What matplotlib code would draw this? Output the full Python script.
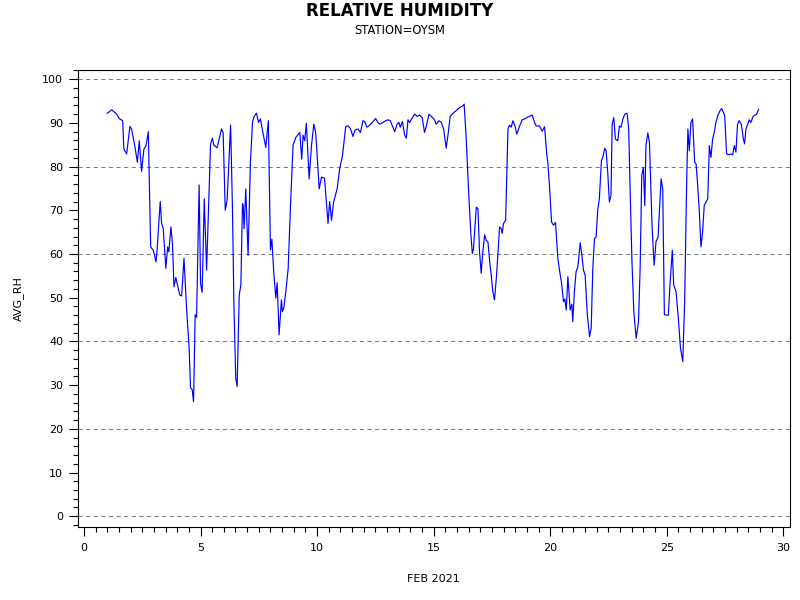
import matplotlib
matplotlib.use("Agg")
import matplotlib.pyplot as plt
from matplotlib.ticker import MultipleLocator

days = [
    1.00, 1.19, 1.40, 1.51, 1.66, 1.71, 1.83, 1.97, 2.04, 2.19, 2.29, 2.37, 2.47, 2.57, 2.66, 2.76,
    2.86, 2.97, 3.09, 3.14, 3.27, 3.33, 3.40, 3.51, 3.59, 3.64, 3.73, 3.80, 3.86, 3.94, 4.04, 4.11,
    4.19, 4.29, 4.40, 4.51, 4.57, 4.64, 4.70, 4.77, 4.83, 4.94, 5.00, 5.07, 5.16, 5.26, 5.36, 5.43,
    5.51, 5.57, 5.71, 5.90, 5.97, 6.06, 6.14, 6.29, 6.37, 6.43, 6.51, 6.57, 6.66, 6.73, 6.80, 6.83,
    6.87, 6.94, 7.04, 7.14, 7.23, 7.30, 7.40, 7.49, 7.57, 7.69, 7.80, 7.91, 8.00, 8.06, 8.14, 8.23,
    8.29, 8.37, 8.47, 8.51, 8.57, 8.66, 8.76, 8.86, 8.97, 9.09, 9.17, 9.26, 9.34, 9.40, 9.47, 9.54,
    9.66, 9.76, 9.86, 9.94, 10.00, 10.09, 10.19, 10.32, 10.47, 10.54, 10.62, 10.71, 10.86, 10.97,
    11.09, 11.23, 11.33, 11.43, 11.54, 11.63, 11.76, 11.86, 11.97, 12.04, 12.14, 12.26, 12.40,
    12.51, 12.61, 12.69, 12.83, 12.94, 13.04, 13.14, 13.23, 13.33, 13.43, 13.51, 13.57, 13.66,
    13.76, 13.83, 13.90, 13.97, 14.09, 14.19, 14.29, 14.40, 14.51, 14.61, 14.69, 14.80, 14.90,
    15.04, 15.11, 15.23, 15.33, 15.43, 15.54, 15.63, 15.71, 15.83, 15.97, 16.11, 16.26, 16.31,
    16.40, 16.51, 16.60, 16.66, 16.71, 16.83, 16.90, 16.97, 17.04, 17.11, 17.19, 17.26, 17.33,
    17.40, 17.47, 17.54, 17.61, 17.69, 17.76, 17.83, 17.90, 17.94, 18.00, 18.09, 18.19, 18.26,
    18.33, 18.40, 18.49, 18.57, 18.69, 18.80, 18.90, 19.00, 19.11, 19.23, 19.33, 19.40, 19.54,
    19.66, 19.76, 19.86, 19.90, 19.97, 20.06, 20.14, 20.23, 20.33, 20.40, 20.49, 20.57, 20.63,
    20.69, 20.76, 20.86, 20.93, 20.97, 21.04, 21.11, 21.19, 21.29, 21.36, 21.43, 21.50, 21.59,
    21.69, 21.76, 21.83, 21.90, 21.97, 22.04, 22.11, 22.20, 22.26, 22.34, 22.40, 22.47, 22.54,
    22.61, 22.66, 22.73, 22.80, 22.90, 22.97, 23.04, 23.11, 23.20, 23.30, 23.37, 23.43, 23.51,
    23.59, 23.69, 23.79, 23.86, 23.93, 24.00, 24.06, 24.11, 24.19, 24.26, 24.37, 24.46, 24.54,
    24.63, 24.76, 24.83, 24.90, 25.00, 25.07, 25.14, 25.24, 25.30, 25.40, 25.50, 25.59, 25.69,
    25.77, 25.86, 25.91, 25.97, 26.04, 26.11, 26.20, 26.26, 26.33, 26.40, 26.47, 26.54, 26.61,
    26.69, 26.76, 26.83, 26.90, 26.97, 27.04, 27.11, 27.20, 27.29, 27.36, 27.43, 27.49, 27.57,
    27.66, 27.76, 27.83, 27.90, 27.97, 28.04, 28.11, 28.20, 28.29, 28.34, 28.40, 28.49, 28.54,
    28.61, 28.71, 28.80, 28.86, 28.94,
]

avg_rh = [
    92.2, 93.0, 92.0, 91.0, 90.5, 84.0, 82.9, 89.2, 88.6, 84.4, 81.0, 85.9, 78.9, 84.0, 84.8, 88.0,
    61.6, 60.9, 58.2, 61.2, 72.0, 67.0, 65.8, 56.7, 61.6, 60.5, 66.2, 62.0, 52.5, 54.6, 52.3, 50.6,
    50.4, 59.0, 47.6, 38.5, 29.4, 29.0, 26.2, 46.1, 45.5, 75.8, 53.3, 51.2, 72.6, 56.3, 73.4, 85.2,
    86.5, 84.9, 84.3, 88.6, 87.8, 70.0, 72.3, 89.5, 70.4, 49.1, 31.6, 29.7, 50.6, 52.9, 71.5, 71.1,
    65.8, 74.9, 59.7, 81.0, 90.1, 91.5, 92.2, 90.1, 90.9, 87.4, 84.4, 90.5, 60.9, 63.4, 55.9, 49.9,
    53.4, 41.5, 49.5, 46.8, 47.6, 51.4, 56.7, 71.1, 84.9, 86.7, 87.2, 87.8, 81.7, 87.2, 85.9, 89.9,
    77.2, 84.8, 89.7, 87.8, 82.9, 74.9, 77.6, 77.3, 67.0, 72.0, 67.7, 71.9, 74.9, 79.5,
    82.5, 89.2, 89.3, 88.7, 86.9, 88.4, 88.6, 87.8, 90.5, 90.3, 89.0, 89.5, 90.3,
    91.0, 90.1, 89.7, 90.1, 90.5, 90.7, 90.5, 89.3, 88.0, 89.7, 90.1, 89.0, 90.3,
    87.2, 86.5, 90.7, 90.1, 91.2, 92.0, 91.5, 91.8, 91.2, 87.8, 89.3, 92.0, 91.5,
    90.7, 89.7, 90.5, 90.1, 88.6, 84.2, 87.8, 91.5, 92.2, 92.8, 93.5, 93.9, 94.3,
    86.3, 73.4, 64.3, 60.1, 61.2, 70.7, 70.4, 60.5, 55.6, 60.5, 64.4, 63.1, 62.8,
    58.6, 55.2, 51.4, 49.5, 54.4, 60.1, 66.2, 65.8, 64.7, 67.0, 67.7, 88.6, 89.5,
    89.0, 90.5, 89.3, 87.4, 89.3, 90.7, 90.9, 91.2, 91.5, 91.8, 90.1, 89.3, 89.3,
    88.1, 89.1, 82.5, 81.0, 75.7, 67.3, 66.6, 67.2, 59.0, 56.3, 53.3, 49.1, 49.7,
    47.2, 54.8, 47.2, 48.5, 44.5, 51.4, 55.9, 57.1, 62.6, 59.7, 56.3, 55.2, 46.4,
    41.1, 43.0, 56.7, 63.5, 63.9, 70.0, 72.6, 81.4, 82.1, 84.2, 83.6, 78.7, 71.9,
    73.4, 89.7, 91.2, 86.3, 85.9, 89.3, 89.0, 90.7, 92.0, 92.2, 88.6, 74.9, 58.2,
    46.8, 40.7, 44.5, 56.7, 78.0, 79.8, 71.1, 84.8, 87.7, 85.5, 66.6, 57.4, 62.8,
    63.9, 77.2, 74.9, 46.1, 46.0, 46.0, 52.9, 60.9, 52.9, 51.4, 45.3, 38.5, 35.4,
    49.1, 77.2, 88.6, 83.6, 90.1, 90.9, 81.0, 80.6, 75.7, 69.6, 61.6, 65.0, 71.1,
    71.9, 72.6, 84.8, 82.1, 86.3, 87.8, 90.1, 91.8, 92.8, 93.3, 92.4, 91.6, 82.9,
    82.7, 82.9, 82.7, 84.8, 83.3, 89.7, 90.5, 89.7, 86.3, 85.2, 88.6, 89.9, 90.7,
    90.1, 91.5, 91.8, 92.0, 93.1,
]

x_ticks = [0, 5, 10, 15, 20, 25, 30]
y_ticks = [0, 10, 20, 30, 40, 50, 60, 70, 80, 90, 100]
grid_levels = [0, 20, 40, 60, 80, 100]

plt.rcParams['font.family'] = ['DejaVu Sans']

fig = plt.figure(figsize=(8, 6), dpi=100)
ax = fig.add_axes([77.7 / 800, 1 - 526.7 / 600, (790 - 77.7) / 800, (526.7 - 70) / 600])

for g in grid_levels:
    ax.axhline(g, color='#808080', lw=0.75, linestyle=(0, (4, 3.3)), zorder=1)

ax.plot(days, avg_rh, color='#0000FF', lw=0.85, zorder=3)

ax.set_xlim(-0.27, 30.29)
ax.set_ylim(-2.4, 102.1)
ax.set_xticks(x_ticks)
ax.set_yticks(y_ticks)
ax.xaxis.set_minor_locator(MultipleLocator(0.5))
ax.yaxis.set_minor_locator(MultipleLocator(2))
ax.tick_params(axis='both', which='major', direction='out', length=6.5, width=0.8,
               labelsize=8, colors='black')
ax.tick_params(axis='both', which='minor', direction='out', length=3.4, width=0.8)
ax.tick_params(axis='y', which='major', pad=4)
ax.tick_params(axis='x', which='major', pad=5)
for s in ax.spines.values():
    s.set_linewidth(0.8)

ax.set_xlabel('FEB 2021', fontsize=8, labelpad=15)
ax.set_ylabel('AVG_RH', fontsize=8, labelpad=13)

fig.text(0.5, 1 - 11 / 600, 'RELATIVE HUMIDITY', ha='center', va='center',
         fontsize=12, fontweight='bold')
fig.text(0.5, 1 - 30.5 / 600, 'STATION=OYSM', ha='center', va='center', fontsize=8.3)

fig.savefig('out.png', dpi=100)
